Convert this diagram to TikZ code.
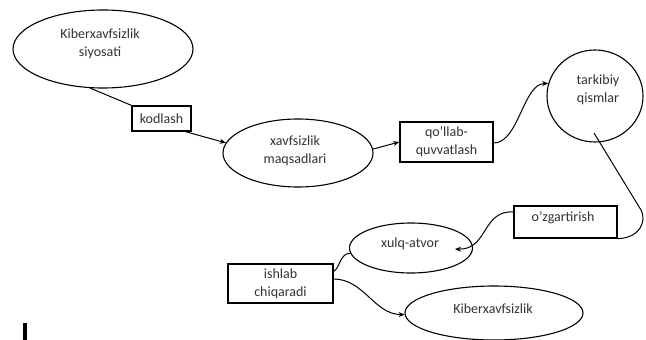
\documentclass[tikz,border=0pt]{standalone}
\usepackage{fontspec}
\setmainfont{Carlito}
\usetikzlibrary{shapes.geometric,arrows.meta,calc}
\begin{document}
\begin{tikzpicture}[x=1pt,y=-1pt,
  every node/.style={font=\fontsize{14}{18}\selectfont, text=black!80},
  oval/.style={draw, ellipse, line width=1.1pt, inner sep=0pt},
  boxx/.style={draw, rectangle, line width=1.4pt, inner sep=0pt, align=center},
  lbl/.style={align=center, inner sep=0pt},
  conn/.style={line width=1pt},
  arr/.style={conn, -{Stealth[length=6pt,width=5pt]}}]
\useasboundingbox (0,0) rectangle (646,340);
\fill[white] (0,0) rectangle (646,340);

\node[oval, minimum width=180pt, minimum height=78pt] (e1) at (103,49) {};
\node[lbl] (t1) at (100,44) {Kiberxavfsizlik\\siyosati};
\node[boxx, minimum width=59pt, minimum height=25pt] (kod) at (161.5,118.5) {kodlash};
\node[oval, minimum width=150pt, minimum height=68pt] (e2) at (298,153) {};
\node[lbl] (t2) at (295,151) {xavfsizlik\\maqsadlari};
\node[boxx, minimum width=93pt, minimum height=40pt] (qol) at (446.5,142) {qo'llab-\\quvvatlash};
\node[oval, minimum width=96pt, minimum height=92pt] (ci) at (595,96) {};
\node[lbl] (t3) at (598,90) {tarkibiy\\qismlar};
\node[boxx, minimum width=103pt, minimum height=32pt] (ozg) at (565.5,222) {};
\node[lbl] (t4) at (563,218) {o'zgartirish};
\node[oval, minimum width=123pt, minimum height=50pt] (e3) at (411,248) {};
\node[lbl] (t5) at (410,244) {xulq-atvor};
\node[boxx, minimum width=105pt, minimum height=39pt] (ish) at (280.5,283.5) {ishlab\\chiqaradi};
\node[oval, minimum width=178pt, minimum height=54pt] (e4) at (494,313) {};
\node[lbl] (t6) at (493,309) {Kiberxavfsizlik};

\coordinate (c5) at (594,133);
\coordinate (c6) at (455,249);

\draw[conn] (e1.252) -- (kod.north west);
\draw[arr] ($(kod.south east)+(-6,0)$) -- (e2.172);
\draw[arr] (e2.3) -- (qol.west);
\draw[arr] ($(qol.east)+(0,1)$) .. controls +(25,0) and +(-25,0) .. (ci.165);
\draw[conn] (c5) -- (641,210) .. controls (647,221) and (640,238) .. (ozg.south east);
\draw[arr] ($(ozg.west)+(0,-10)$) .. controls (482,210) and (488,250) .. (c6);
\draw[conn] ($(ish.north east)+(0,8)$) .. controls (340,268) and (340,253) .. (e3.185);
\draw[arr] ($(ish.east)+(0,-4.5)$) .. controls +(30,0) and +(-30,0) .. (e4.181);

\fill[black] (23,323) rectangle (27,340);
\end{tikzpicture}
\end{document}
